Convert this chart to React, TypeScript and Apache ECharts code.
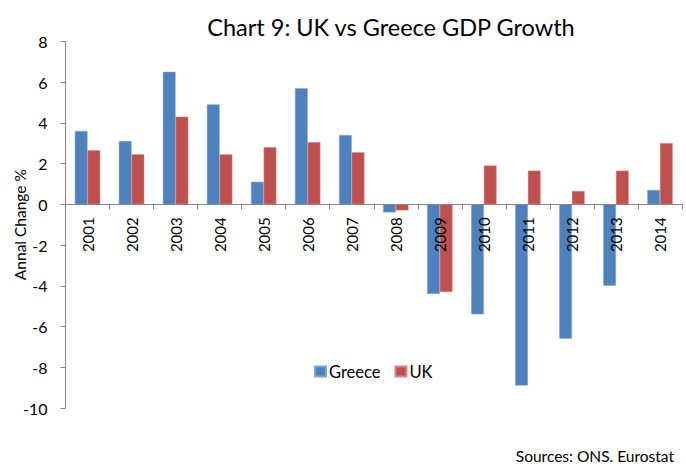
import React, { useEffect, useRef } from "react";
import * as echarts from "echarts";

const categories = ["2001","2002","2003","2004","2005","2006","2007","2008","2009","2010","2011","2012","2013","2014"];
const greece = [3.6, 3.1, 6.5, 4.9, 1.1, 5.7, 3.4, -0.4, -4.4, -5.4, -8.9, -6.6, -4.0, 0.7];
const uk = [2.65, 2.45, 4.3, 2.45, 2.8, 3.05, 2.55, -0.3, -4.3, 1.9, 1.65, 0.65, 1.65, 3.0];
const yTicks = { min: -10, max: 8, interval: 2 };

const FONT = "Lato, 'Open Sans', sans-serif";
const GRID_TOP = 41.3;
const GRID_BOTTOM = 59;
const CHART_H = 467;

export default function App() {
  const ref = useRef<HTMLDivElement>(null);
  useEffect(() => {
    if (!ref.current) return;
    const chart = echarts.init(ref.current, undefined, { renderer: "svg" });
    const plotH = CHART_H - GRID_TOP - GRID_BOTTOM;
    const zeroFromBottom = (plotH * (0 - yTicks.min)) / (yTicks.max - yTicks.min);
    chart.setOption({
      animation: false,
      backgroundColor: "#ffffff",
      textStyle: { fontFamily: FONT },
      title: {
        text: "Chart 9: UK vs Greece GDP Growth",
        left: 386,
        textAlign: "center",
        top: 10,
        textStyle: { fontFamily: FONT, fontSize: 23.5, fontWeight: "normal", color: "#000" },
      },
      legend: {
        data: ["Greece", "UK"],
        left: 309,
        top: 358,
        itemWidth: 11,
        itemHeight: 10,
        itemGap: 14,
        icon: "rect",
        textStyle: { fontFamily: FONT, fontSize: 16.5, color: "#000", padding: [0, 0, 0, -2] },
      },
      grid: { left: 65.5, right: 4, top: GRID_TOP, bottom: GRID_BOTTOM, containLabel: false },
      xAxis: {
        type: "category",
        data: categories,
        offset: -zeroFromBottom,
        z: 10,
        axisLine: { onZero: false, lineStyle: { color: "#868686", width: 1 } },
        axisTick: { show: true, length: 5, lineStyle: { color: "#868686" } },
        axisLabel: { rotate: 90, fontFamily: FONT, fontSize: 15, color: "#000", margin: 13 },
        splitLine: { show: false },
      },
      yAxis: {
        type: "value",
        min: yTicks.min,
        max: yTicks.max,
        interval: yTicks.interval,
        name: "Annal Change %",
        nameLocation: "middle",
        nameGap: 37.5,
        nameMoveOverlap: false,
        nameRotate: 90,
        nameTextStyle: { fontFamily: FONT, fontSize: 15.5, color: "#000" },
        axisLine: { show: true, lineStyle: { color: "#868686" } },
        axisTick: { show: true, length: 5, lineStyle: { color: "#868686" } },
        axisLabel: { fontFamily: FONT, fontSize: 16, color: "#000", margin: 18 },
        splitLine: { show: false },
      },
      series: [
        {
          name: "Greece",
          type: "bar",
          data: greece,
          barWidth: 12.7,
          barGap: "0%",
          itemStyle: { color: "#4F81BD", borderColor: "#7fa3d0", borderWidth: 0.5 },
        },
        {
          name: "UK",
          type: "bar",
          data: uk,
          barWidth: 12.7,
          barGap: "0%",
          itemStyle: { color: "#C0504D", borderColor: "#d88683", borderWidth: 0.5 },
        },
      ],
      graphic: [
        {
          type: "text",
          right: 12,
          top: 448,
          style: { text: "Sources: ONS. Eurostat", font: `15.5px ${FONT}`, fill: "#000" },
        },
      ],
    });
    return () => chart.dispose();
  }, []);
  return (
    <div
      ref={ref}
      style={{ position: "fixed", left: 0, top: 0, width: 686, height: CHART_H }}
    />
  );
}
